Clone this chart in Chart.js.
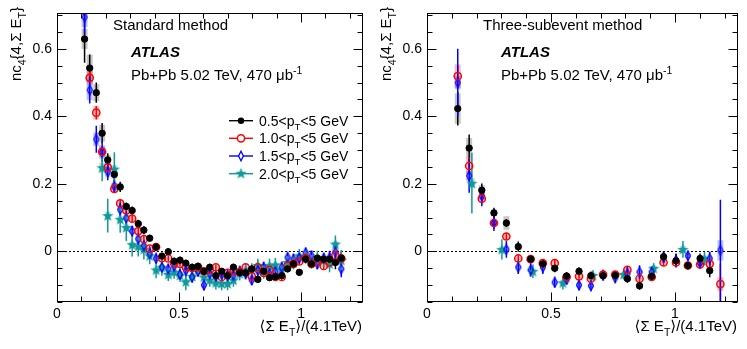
<!DOCTYPE html>
<html><head><meta charset="utf-8">
<script src="https://cdn.jsdelivr.net/npm/chart.js@4"></script>
<style>
html,body{margin:0;padding:0;background:#fff;}
#wrap{position:relative;width:747px;height:349px;overflow:hidden;}
.pane{position:absolute;top:0;height:349px;}
#p1{left:0;width:370px;}
#p2{left:370px;width:377px;}
</style></head><body>
<div id="wrap">
<div class="pane" id="p1"><canvas id="c1" width="370" height="349"></canvas></div>
<div class="pane" id="p2"><canvas id="c2" width="377" height="349"></canvas></div>
</div>
<script>
// ---------------- data: Standard method ----------------
const stdX = [
 0.113,0.134,0.161,0.185,0.208,0.235,0.259,0.284,0.308,0.333,0.356,
 0.380,0.406,0.430,0.456,0.480,0.504,0.528,0.554,0.578,0.602,0.626,
 0.651,0.675,0.699,0.723,0.749,0.773,0.798,0.823,0.847,0.871,0.895,
 0.921,0.945,0.969,0.993,1.019,1.043,1.067,1.093,1.117,1.141,1.165];
const stdBlack = [
 0.629,0.543,0.470,0.350,0.271,0.228,0.191,0.133,0.121,0.082,0.063,
 0.039,0.013,-0.014,-0.001,-0.029,-0.026,-0.035,-0.047,-0.044,-0.059,-0.047,
 -0.072,-0.059,-0.072,-0.047,-0.063,-0.064,-0.052,-0.083,-0.059,-0.078,-0.075,
 -0.072,-0.052,-0.037,-0.062,-0.023,-0.037,-0.020,-0.023,-0.023,-0.033,-0.020];
const stdBlackErr = [
 0.07,0.04,0.03,0.03,0.02,0.02,0.015,0.012,0.012,0.012,0.012,
 0.01,0.01,0.01,0.01,0.01,0.01,0.01,0.01,0.01,0.01,0.01,
 0.01,0.01,0.01,0.01,0.01,0.01,0.01,0.01,0.01,0.01,0.01,
 0.01,0.01,0.01,0.01,0.012,0.012,0.012,0.012,0.015,0.02,0.02];
const stdBlackSys = [
 0.03,0.04,0.025,0.025,0.015,0.012,0.01,0.008,0.008,0.008,0.008,
 0.006,0.006,0.006,0.006,0.006,0.006,0.006,0.006,0.006,0.006,0.006,
 0.006,0.006,0.006,0.006,0.006,0.006,0.006,0.006,0.006,0.006,0.006,
 0.006,0.006,0.006,0.006,0.006,0.006,0.006,0.006,0.006,0.006,0.006];
const stdRed = [
 null,0.514,0.411,0.295,0.249,0.185,0.142,0.121,0.097,0.060,0.036,
 0.008,0.013,-0.020,-0.021,-0.035,-0.037,-0.047,-0.050,-0.047,-0.059,-0.055,
 -0.047,-0.076,-0.064,-0.059,-0.061,-0.047,-0.074,-0.047,-0.064,-0.055,-0.076,
 -0.076,-0.042,-0.037,-0.030,-0.020,-0.037,-0.028,-0.043,-0.033,-0.012,-0.021];
const stdRedErr = [
 null,0.02,0.02,0.015,0.015,0.012,0.01,0.01,0.01,0.01,0.01,
 0.008,0.008,0.008,0.008,0.008,0.008,0.008,0.008,0.008,0.008,0.008,
 0.008,0.008,0.008,0.008,0.008,0.008,0.008,0.008,0.008,0.008,0.008,
 0.008,0.008,0.008,0.01,0.01,0.01,0.01,0.012,0.012,0.015,0.015];
const stdRedSys = [
 null,0.02,0.02,0.015,0.012,0.01,0.008,0.008,0.008,0.008,0.006,
 0.005,0.005,0.005,0.005,0.005,0.005,0.005,0.005,0.005,0.005,0.005,
 0.005,0.005,0.005,0.005,0.005,0.005,0.005,0.005,0.005,0.005,0.005,
 0.005,0.005,0.005,0.005,0.005,0.005,0.005,0.005,0.005,0.005,0.005];
const stdBlue = [
 0.694,0.478,0.332,0.294,0.236,0.193,0.124,0.099,0.060,0.037,0.017,
 -0.006,-0.021,-0.047,-0.052,-0.044,-0.068,-0.057,-0.076,-0.059,-0.100,-0.066,
 -0.074,-0.068,-0.072,-0.071,-0.059,-0.066,-0.085,-0.057,-0.047,-0.066,-0.061,
 -0.047,-0.018,-0.023,-0.020,-0.004,-0.013,-0.037,-0.020,-0.018,-0.001,-0.052];
const stdBlueErr = [
 0.05,0.04,0.04,0.03,0.025,0.02,0.02,0.02,0.015,0.015,0.015,
 0.015,0.015,0.015,0.015,0.015,0.015,0.015,0.015,0.015,0.015,0.015,
 0.015,0.015,0.015,0.015,0.015,0.015,0.015,0.015,0.015,0.015,0.015,
 0.015,0.015,0.015,0.015,0.015,0.015,0.015,0.015,0.02,0.02,0.025];
const stdBlueSys = [
 0.03,0.03,0.02,0.02,0.015,0.01,0.008,0.008,0.008,0.008,0.006,
 0.006,0.006,0.006,0.006,0.006,0.006,0.006,0.006,0.006,0.006,0.006,
 0.006,0.006,0.006,0.006,0.006,0.006,0.006,0.006,0.006,0.006,0.006,
 0.006,0.006,0.006,0.006,0.006,0.006,0.006,0.006,0.006,0.006,0.006];
const stdTeal = [
 null,null,null,0.248,0.106,0.244,0.095,0.071,0.020,0.015,0.006,
 -0.013,-0.055,-0.047,-0.068,-0.061,-0.071,-0.090,-0.074,-0.055,-0.076,-0.085,
 -0.093,-0.095,-0.095,-0.085,-0.066,-0.057,-0.055,-0.042,-0.061,-0.042,-0.040,
 -0.055,-0.033,-0.033,-0.013,-0.016,-0.031,-0.018,-0.026,-0.037,0.022,-0.026];
const stdTealErr = [
 null,null,null,0.04,0.05,0.05,0.04,0.04,0.035,0.03,0.03,
 0.025,0.025,0.025,0.02,0.02,0.02,0.025,0.02,0.02,0.02,0.02,
 0.02,0.02,0.02,0.02,0.02,0.02,0.02,0.02,0.02,0.02,0.02,
 0.02,0.02,0.02,0.02,0.02,0.02,0.02,0.02,0.025,0.025,0.03];
const stdTealSys = [
 null,null,null,0.015,0.012,0.012,0.01,0.01,0.008,0.008,0.008,
 0.008,0.008,0.008,0.008,0.008,0.008,0.008,0.008,0.008,0.008,0.008,
 0.008,0.008,0.008,0.008,0.008,0.008,0.008,0.008,0.008,0.008,0.008,
 0.008,0.008,0.008,0.008,0.008,0.008,0.008,0.008,0.008,0.008,0.008];

// ---------------- data: Three-subevent method ----------------
const subX = [0.124,0.170,0.221,0.270,0.320,0.368,0.418,0.467,0.515,0.563,0.613,0.661,
 0.710,0.759,0.808,0.857,0.906,0.954,1.004,1.052,1.101,1.140,1.183];
const subBlack = [0.423,0.306,0.181,0.114,0.084,0.014,-0.023,-0.037,-0.050,-0.073,-0.059,-0.072,
 -0.072,-0.071,-0.081,-0.102,-0.074,-0.016,-0.028,-0.042,-0.021,-0.057,null];
const subBlackErr = [0.05,0.04,0.02,0.015,0.012,0.015,0.012,0.012,0.012,0.012,0.012,0.012,
 0.012,0.012,0.012,0.012,0.012,0.015,0.02,0.012,0.015,0.02,null];
const subBlackSys = [0.045,0.03,0.015,0.01,0.02,0.01,0.008,0.008,0.008,0.008,0.008,0.008,
 0.008,0.008,0.008,0.01,0.008,0.008,0.008,0.008,0.008,0.01,null];
const subRed = [0.519,0.253,0.156,0.084,0.044,-0.021,-0.023,-0.035,-0.035,-0.076,-0.074,-0.081,
 -0.069,-0.069,-0.055,-0.081,-0.076,-0.033,-0.033,-0.042,-0.039,-0.037,-0.097];
const subRedErr = [0.03,0.025,0.015,0.012,0.01,0.01,0.01,0.01,0.01,0.01,0.01,0.01,
 0.01,0.01,0.01,0.01,0.01,0.01,0.01,0.01,0.01,0.012,0.06];
const subRedSys = [0.035,0.025,0.012,0.008,0.01,0.006,0.006,0.006,0.006,0.006,0.006,0.006,
 0.006,0.006,0.006,0.006,0.006,0.006,0.006,0.006,0.006,0.006,0.02];
const subBlue = [0.500,0.224,0.164,0.085,0.006,-0.047,-0.055,-0.047,-0.092,-0.083,-0.100,-0.102,
 -0.071,-0.078,-0.066,-0.061,-0.061,-0.018,-0.026,-0.013,-0.035,-0.021,0.003];
const subBlueErr = [0.1,0.05,0.03,0.025,0.025,0.02,0.02,0.02,0.015,0.015,0.015,0.015,
 0.015,0.015,0.02,0.02,0.015,0.015,0.02,0.015,0.015,0.02,0.15];
const subBlueSys = [0.02,0.015,0.01,0.008,0.008,0.006,0.006,0.006,0.006,0.006,0.006,0.006,
 0.006,0.006,0.006,0.006,0.006,0.006,0.006,0.006,0.006,0.006,0.03];
const subTealX = [0.181,0.302,0.427,0.548,0.669,0.793,0.914,1.032,1.119];
const subTeal = [0.202,0.006,-0.059,-0.093,-0.071,-0.068,-0.050,0.006,-0.021];
const subTealErr = [0.09,0.03,0.02,0.02,0.015,0.015,0.015,0.025,0.02];
const subTealSys = [0.015,0.008,0.008,0.008,0.008,0.008,0.008,0.01,0.008];

// ---------------- labels / ticks ----------------
const seriesLabels = ['0.5', '1.0', '1.5', '2.0'];
const yTickValues = [0, 0.2, 0.4, 0.6];
const xTickValues = [0, 0.5, 1];
const panelTitles = ['Standard method', 'Three-subevent method'];

// ---------------- styles ----------------
const FONT = "'Liberation Sans', Arial, 'DejaVu Sans', sans-serif";
const COL = {black:'#000000', red:'#ff0000', blue:'#0000ff', teal:'#10999a'};
const SYS = {black:'rgba(0,0,0,0.22)', red:'rgba(255,0,0,0.28)', blue:'rgba(0,0,255,0.25)', teal:'rgba(16,153,154,0.28)'};

function mkDiamond(color){
  const c=document.createElement('canvas'); c.width=8; c.height=12;
  const g=c.getContext('2d'); g.strokeStyle=color; g.lineWidth=1.3;
  g.beginPath(); g.moveTo(4,1.2); g.lineTo(6.4,6); g.lineTo(4,10.8); g.lineTo(1.6,6); g.closePath(); g.stroke();
  return c;
}
function mkStar(color){
  const c=document.createElement('canvas'); c.width=13; c.height=13;
  const g=c.getContext('2d'); g.fillStyle=color; g.beginPath();
  for(let k=0;k<10;k++){const r=k%2?2.4:6; const a=-Math.PI/2+k*Math.PI/5; g.lineTo(6.5+r*Math.cos(a),7+r*Math.sin(a));}
  g.closePath(); g.fill(); return c;
}
const diamondImg = mkDiamond(COL.blue);
const starImg = mkStar(COL.teal);

function pts(xs, ys, es, ss){
  const out=[];
  for(let i=0;i<xs.length;i++){ if(ys[i]==null) continue; out.push({x:xs[i], y:ys[i], e:es[i], s:ss[i]}); }
  return out;
}
function mkSets(b,r,bl,t){
  return [
    {key:'black', data:b, pointStyle:'circle', pointRadius:3.2, backgroundColor:COL.black, borderColor:COL.black, borderWidth:1},
    {key:'red', data:r, pointStyle:'circle', pointRadius:3.6, backgroundColor:'rgba(0,0,0,0)', borderColor:COL.red, borderWidth:1.5},
    {key:'blue', data:bl, pointStyle:diamondImg, pointRadius:5, backgroundColor:COL.blue, borderColor:COL.blue},
    {key:'teal', data:t, pointStyle:starImg, pointRadius:6, backgroundColor:COL.teal, borderColor:COL.teal}
  ].map(d=>Object.assign(d,{showLine:false, pointHoverRadius:d.pointRadius}));
}

function drawRich(ctx, parts, x, y, size){
  let cx=x;
  for(const [t,m] of parts){
    const fs = m? size*0.7 : size;
    ctx.font = fs+'px '+FONT;
    const dy = m===1? size*0.3 : (m===2? -size*0.42 : 0);
    ctx.fillText(t, cx, y+dy);
    cx += ctx.measureText(t).width;
  }
  return cx-x;
}
function richWidth(ctx, parts, size){
  let w=0; for(const [t,m] of parts){ ctx.font=(m?size*0.7:size)+'px '+FONT; w+=ctx.measureText(t).width; } return w;
}

function makePlugin(idx, withLegend){
  return {
    id:'atlas'+idx,
    beforeDatasetsDraw(chart){
      const {ctx, chartArea:a, scales:{x:xs, y:ys}} = chart;
      ctx.save();
      ctx.beginPath(); ctx.rect(a.left, a.top, a.right-a.left, a.bottom-a.top); ctx.clip();
      ctx.strokeStyle='#000'; ctx.lineWidth=1; ctx.setLineDash([2,2]);
      const y0 = Math.round(ys.getPixelForValue(0))+0.5;
      ctx.beginPath(); ctx.moveTo(a.left,y0); ctx.lineTo(a.right,y0); ctx.stroke();
      ctx.setLineDash([]);
      chart.data.datasets.forEach(ds=>{
        ds.data.forEach(p=>{
          const px = xs.getPixelForValue(p.x);
          if(p.s){
            const t=ys.getPixelForValue(p.y+p.s), b=ys.getPixelForValue(p.y-p.s);
            ctx.fillStyle=SYS[ds.key]; ctx.fillRect(px-3, t, 6, b-t);
          }
        });
      });
      chart.data.datasets.forEach(ds=>{
        ds.data.forEach(p=>{
          const px = xs.getPixelForValue(p.x);
          if(p.e){
            const t=ys.getPixelForValue(p.y+p.e), b=ys.getPixelForValue(p.y-p.e);
            ctx.strokeStyle=COL[ds.key]; ctx.lineWidth=1.5;
            ctx.beginPath(); ctx.moveTo(px,t); ctx.lineTo(px,b); ctx.stroke();
          }
        });
      });
      ctx.restore();
    },
    afterDraw(chart){
      const {ctx, chartArea:a, scales:{x:xs, y:ys}} = chart;
      ctx.save();
      ctx.strokeStyle='#000'; ctx.lineWidth=1;
      const L=Math.round(a.left)+0.5, R=Math.round(a.right)-0.5, T=Math.round(a.top)+0.5, B=Math.round(a.bottom)-0.5;
      ctx.strokeRect(L, T, R-L, B-T);
      ctx.beginPath();
      for(let k=-3;k<=14;k++){
        const v=k*0.05; if(v<ys.min-1e-9||v>ys.max+1e-9) continue;
        const py=Math.round(ys.getPixelForValue(v))+0.5;
        const len = (k%4===0)? 9:5;
        ctx.moveTo(L,py); ctx.lineTo(L+len,py);
        ctx.moveTo(R,py); ctx.lineTo(R-len,py);
      }
      for(let k=0;k<=12;k++){
        const v=k*0.1; if(v>xs.max) continue;
        const px=Math.round(xs.getPixelForValue(v))+0.5;
        const len = (k%5===0)? 9:5;
        ctx.moveTo(px,B); ctx.lineTo(px,B-len);
        ctx.moveTo(px,T); ctx.lineTo(px,T+len);
      }
      ctx.stroke();

      ctx.fillStyle='#000'; ctx.textBaseline='alphabetic'; ctx.textAlign='left';
      ctx.font='15px '+FONT; ctx.fillText(panelTitles[idx], 113, 30);
      ctx.font='italic bold 15px '+FONT; ctx.fillText('ATLAS', 131, 57);
      drawRich(ctx, [['Pb+Pb 5.02 TeV, 470 \u03bcb',0],['-1',2]], 131, 80, 15);

      const xt=[['\u27e8\u03a3 E',0],['T',1],['\u27e9/(4.1TeV)',0]];
      const w=richWidth(ctx,xt,15);
      drawRich(ctx, xt, a.right-1-w, 331, 15);

      const yt=[['nc',0],['4',1],['{4,\u03a3 E',0],['T',1],['}',0]];
      const wy=richWidth(ctx,yt,15);
      ctx.save(); ctx.translate(21, 7+wy); ctx.rotate(-Math.PI/2);
      drawRich(ctx, yt, 0, 0, 15); ctx.restore();

      if(withLegend){
        const rows=[120.7,138.3,156,173.7];
        const keys=['black','red','blue','teal'];
        chart.data.datasets.forEach((ds,i)=>{
          const yy=rows[i];
          ctx.strokeStyle=COL[keys[i]]; ctx.lineWidth=1.4;
          ctx.beginPath(); ctx.moveTo(229,yy); ctx.lineTo(253,yy); ctx.stroke();
          if(i===0){ctx.fillStyle='#000'; ctx.beginPath(); ctx.arc(241,yy,3.2,0,Math.PI*2); ctx.fill();}
          if(i===1){ctx.fillStyle='#fff'; ctx.beginPath(); ctx.arc(241,yy,3.6,0,Math.PI*2); ctx.fill(); ctx.strokeStyle=COL.red; ctx.lineWidth=1.5; ctx.stroke();}
          if(i===2){ctx.fillStyle='#fff'; ctx.fillRect(239,yy-4,4,8); ctx.drawImage(diamondImg,241-4,yy-6);}
          if(i===3){ctx.drawImage(starImg,241-6.5,yy-7);}
          ctx.fillStyle='#000';
          drawRich(ctx, [[seriesLabels[i]+'<p',0],['T',1],['<5 GeV',0]], 259, yy+5, 14);
        });
      }
      ctx.restore();
    }
  };
}

function makeChart(id, idx, datasets, withLegend, padRight){
  return new Chart(document.getElementById(id), {
    type:'scatter',
    data:{datasets},
    options:{
      responsive:false, animation:false, devicePixelRatio:1,
      layout:{padding:{left:0, top:5, right:padRight, bottom:0}},
      plugins:{legend:{display:false}, tooltip:{enabled:false}},
      scales:{
        x:{type:'linear', min:0, max:1.254,
           grid:{display:false, drawTicks:false}, border:{display:false},
           afterBuildTicks:s=>{s.ticks=xTickValues.map(v=>({value:v}));},
           afterFit:s=>{s.height=47;},
           ticks:{autoSkip:false, maxRotation:0, padding:4, color:'#000', font:{family:FONT,size:14}, callback:v=>String(v)}},
        y:{type:'linear', min:-0.15, max:0.705,
           grid:{display:false, drawTicks:false}, border:{display:false},
           afterBuildTicks:s=>{s.ticks=yTickValues.map(v=>({value:v}));},
           afterFit:s=>{s.width=57;},
           ticks:{autoSkip:false, padding:5, color:'#000', font:{family:FONT,size:14}, callback:v=>String(v)}}
      }
    },
    plugins:[makePlugin(idx, withLegend)]
  });
}

makeChart('c1', 0, mkSets(
  pts(stdX, stdBlack, stdBlackErr, stdBlackSys),
  pts(stdX, stdRed, stdRedErr, stdRedSys),
  pts(stdX, stdBlue, stdBlueErr, stdBlueSys),
  pts(stdX, stdTeal, stdTealErr, stdTealSys)), true, 2);

makeChart('c2', 1, mkSets(
  pts(subX, subBlack, subBlackErr, subBlackSys),
  pts(subX, subRed, subRedErr, subRedSys),
  pts(subX, subBlue, subBlueErr, subBlueSys),
  pts(subTealX, subTeal, subTealErr, subTealSys)), false, 9);
</script>
</body></html>
